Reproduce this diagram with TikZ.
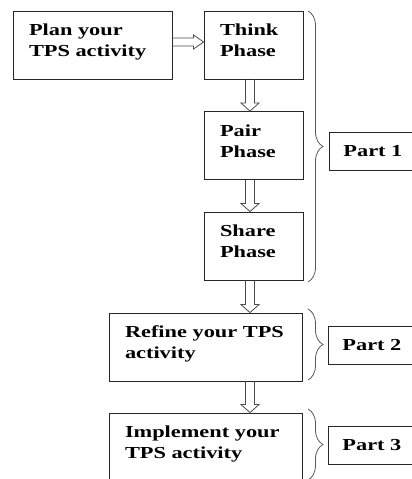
\documentclass[tikz,border=0pt]{standalone}
\usepackage{fontspec}
\setmainfont{Liberation Serif}[FakeStretch=1.33]
\usetikzlibrary{calc,decorations.pathreplacing}

% hollow block arrows between boxes
\newcommand{\hollowdown}[2]{%
    \draw[flow] let \p1=(#1), \p2=(#2) in
        (\x1-4.5pt,\y1) -- (\x1-4.5pt,\y2+8pt) -- (\x1-9pt,\y2+8pt) -- (\x1,\y2)
        -- (\x1+9pt,\y2+8pt) -- (\x1+4.5pt,\y2+8pt) -- (\x1+4.5pt,\y1);
}
\newcommand{\hollowright}[2]{%
    \draw[flow] let \p1=(#1), \p2=(#2) in
        (\x1,\y1+4pt) -- (\x2-10pt,\y1+4pt) -- (\x2-10pt,\y1+7pt) -- (\x2,\y1)
        -- (\x2-10pt,\y1-7pt) -- (\x2-10pt,\y1-4pt) -- (\x1,\y1-4pt);
}

\tikzset{
    box/.style={draw=black!85, line width=0.9pt, inner xsep=16pt, inner ysep=0pt,
        align=left, minimum height=68pt,
        font=\fontsize{16.8}{21}\bfseries\selectfont,
        execute at end node={\rule[-9pt]{0pt}{9pt}}},
    partbox/.style={draw=black!85, line width=0.9pt, inner xsep=14pt, inner ysep=0pt,
        align=left, text width=62pt, minimum height=38pt, anchor=west,
        font=\fontsize{16.8}{21}\bfseries\selectfont},
    flow/.style={draw=black!70, line width=0.8pt, line join=miter},
    bracket/.style={decorate, decoration={brace, amplitude=15pt},
        draw=black!65, line width=0.8pt},
}

\begin{document}
\begin{tikzpicture}[x=1pt,y=-1pt]
    \useasboundingbox (0,0) rectangle (412,479);

    % Draw phase boxes
    \node[box, text width=127pt] (plan) at (92.5,45) {Plan your\\TPS activity};
    \node[box, text width=67pt] (think) at (253.5,45) {Think\\Phase};
    \node[box, text width=67pt] (pair) at (253.5,145.5) {Pair\\Phase};
    \node[box, text width=67pt] (share) at (253.5,246) {Share\\Phase};
    \node[box, text width=161pt] (refine) at (205.5,347) {Refine your TPS\\activity};
    \node[box, text width=161pt] (implement) at (205.5,447) {Implement your\\TPS activity};

    % Draw arrows
    \coordinate (spine) at (250,0);
    \hollowright{[yshift=3pt]plan.east}{think.west}
    \hollowdown{think.south -| spine}{pair.north}
    \hollowdown{pair.south -| spine}{share.north}
    \hollowdown{share.south -| spine}{refine.north}
    \hollowdown{refine.south -| spine}{implement.north}

    % Draw braces and part labels
    \draw[bracket] (308,11) -- (308,282);
    \draw[bracket] (308,309) -- (308,380);
    \draw[bracket] (308,409) -- (308,480);
    \node[partbox] (part1) at (329,151) {Part 1};
    \node[partbox] (part2) at (328,345.5) {Part 2};
    \node[partbox] (part3) at (328,445.5) {Part 3};
\end{tikzpicture}
\end{document}
